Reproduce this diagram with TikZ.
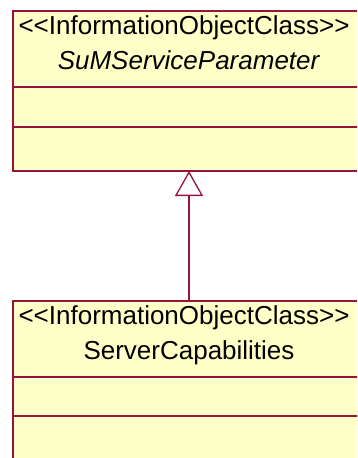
\documentclass[tikz,border=0pt]{standalone}
\usepackage{fontspec}
\newfontfamily\umlfont{Liberation Sans}
\usepackage{tikz}
\usetikzlibrary{positioning,arrows.meta}
\definecolor{classfill}{RGB}{255,255,200}
\definecolor{classline}{RGB}{150,20,60}
\newcommand{\lowstrut}{\rule[-13pt]{0pt}{1pt}}

\begin{document}
\begin{tikzpicture}[x=1pt,y=-1pt,
            head/.style={draw=classline, fill=classfill, line width=1.3pt, outer sep=0pt, inner sep=0pt,
                minimum width=352pt, minimum height=76pt, align=center, font=\umlfont\fontsize{26}{35}\selectfont},
            part/.style={draw=classline, fill=classfill, line width=1.3pt, outer sep=0pt, inner sep=0pt,
                minimum width=352pt}]
        \useasboundingbox (0,0) rectangle (357,458);
        \clip (0,0) rectangle (357,458);

        % parent class
        \node[head, anchor=north west] (supHead) at (13,11) {<<InformationObjectClass>>\kern10pt\\\textit{SuMServiceParameter}\lowstrut};
        \node[part, minimum height=40pt, below=0pt of supHead] (supAttr) {};
        \node[part, minimum height=44pt, below=0pt of supAttr] (supOps) {};

        % child class
        \node[head, anchor=north west] (subHead) at (13,301) {<<InformationObjectClass>>\kern10pt\\ServerCapabilities\lowstrut};
        \node[part, minimum height=39pt, below=0pt of subHead] (subAttr) {};
        \node[part, minimum height=44pt, below=0pt of subAttr] (subOps) {};

        \draw[classline, line width=1.3pt, -{Triangle[open, length=25pt, width=28pt]}] (subHead.north) -- (supOps.south);
    \end{tikzpicture}
\end{document}
